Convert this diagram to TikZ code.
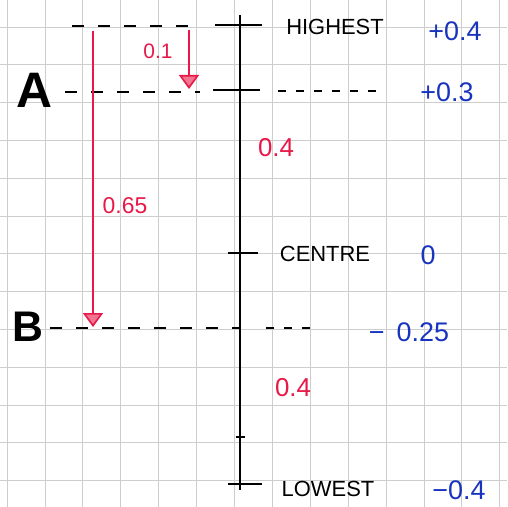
\documentclass[tikz,border=0pt]{standalone}
\usepackage{fontspec}
\setmainfont{Liberation Sans}
\usetikzlibrary{arrows.meta}
\definecolor{gridgray}{RGB}{205,205,205}
\definecolor{penred}{RGB}{232,24,72}
\definecolor{penblue}{RGB}{24,52,190}
\tikzset{
  gridline/.style={gridgray, line width=0.8bp},
  axis/.style={black, line width=2bp},
  tickline/.style={black, line width=1.8bp},
  level/.style={black, line width=1.6bp, dash pattern=on 12bp off 14bp},
  fine/.style={black, line width=1.4bp, dash pattern=on 8bp off 10bp},
  redarrow/.style={penred, line width=1.6bp, -{Triangle[open, length=14bp, width=20bp, fill=penred!60]}},
  lab/.style={black, font=\fontsize{22}{22}\selectfont, inner sep=0pt},
  val/.style={penblue, font=\fontsize{27}{27}\selectfont, inner sep=0pt},
  dist/.style={penred, font=\fontsize{26}{26}\selectfont, inner sep=0pt},
  point/.style={black, font=\bfseries\fontsize{50}{50}\selectfont, inner sep=0pt}
}
\begin{document}
\begin{tikzpicture}[x=1bp, y=-1bp]
\useasboundingbox (0,0) rectangle (507,507);
\fill[white] (0,0) rectangle (507,507);
% grid paper
\foreach \k in {0,...,13} \draw[gridline] ({7+37.9*\k},0) -- ({7+37.9*\k},507);
\foreach \k in {0,...,12} \draw[gridline] (0,{27+37.8*\k}) -- (507,{27+37.8*\k});
% axis
\coordinate (top) at (240,15);
\coordinate (bot) at (240,490);
\draw[axis] (top) -- (bot);
% level coordinates
\coordinate (hiL) at (72,26);   \coordinate (hiR) at (200,26);
\coordinate (hiT1) at (215,25); \coordinate (hiT2) at (262,25);
\coordinate (aL) at (65,92);    \coordinate (aR) at (200,92);
\coordinate (aT1) at (213,90);  \coordinate (aT2) at (260,90);
\coordinate (aD1) at (278,91);  \coordinate (aD2) at (385,91);
\coordinate (cT1) at (228,253); \coordinate (cT2) at (258,253);
\coordinate (bL) at (50,328);   \coordinate (bR) at (240,328);
\coordinate (bD1) at (266,328); \coordinate (bD2) at (316,328);
\coordinate (mT1) at (236,437); \coordinate (mT2) at (245,437);
\coordinate (lT1) at (228,484); \coordinate (lT2) at (262,484);
% levels
\draw[level] (hiL) -- (hiR);
\draw[tickline] (hiT1) -- (hiT2);
\draw[level] (aL) -- (aR);
\draw[tickline] (aT1) -- (aT2);
\draw[fine] (aD1) -- (aD2);
\draw[tickline] (cT1) -- (cT2);
\draw[level] (bL) -- (bR);
\draw[fine] (bD1) -- (bD2);
\draw[line width=1.2bp] (mT1) -- (mT2);
\draw[tickline] (lT1) -- (lT2);
% point labels
\node[point] (A) at (34,90) {A};
\node[point, font=\bfseries\fontsize{43}{43}\selectfont] (B) at (28,327) {B};
% level names
\node[lab] (hiN) at (335,27) {HIGHEST};
\node[lab] (cN) at (325,254) {CENTRE};
\node[lab] (lN) at (328,489) {LOWEST};
% values
\node[val] (v1) at (455,31) {+0.4};
\node[val] (v2) at (447,92) {+0.3};
\node[val] (v3) at (428,255) {0};
\node[val] (v4) at (409,332) {−\;\,0.25};
\node[val] (v5) at (459,490) {−0.4};
% red distances
\coordinate (s1) at (189,30); \coordinate (e1) at (189,89);
\coordinate (s2) at (93,31);  \coordinate (e2) at (93,327);
\draw[redarrow] (s1) -- (e1);
\draw[redarrow] (s2) -- (e2);
\node[dist, font=\fontsize{21}{21}\selectfont] (d1) at (158,51) {0.1};
\node[dist] (d2) at (276,148) {0.4};
\node[dist, font=\fontsize{23}{23}\selectfont] (d3) at (125,206) {0.65};
\node[dist] (d4) at (293,388) {0.4};
\end{tikzpicture}
\end{document}
